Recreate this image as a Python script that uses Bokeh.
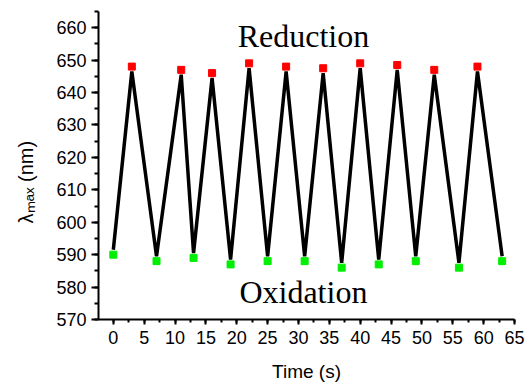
from bokeh.plotting import figure
from bokeh.models import SingleIntervalTicker, Label, Range1d
from bokeh.embed import file_html
from bokeh.resources import INLINE

# Data
line_time = [0, 3, 7, 11, 13, 16, 19, 22, 25, 28, 31, 34, 37, 40, 43, 46, 49, 52, 56, 59, 63]
line_lam = [591.5, 646.5, 589.5, 645.5, 590.5, 644.5, 588.5, 647.5, 589.5, 646.5, 589.5,
            646.0, 587.5, 647.5, 588.5, 647.0, 589.5, 645.5, 587.5, 646.5, 589.5]
red_time = [3, 11, 16, 22, 28, 34, 40, 46, 52, 59]
red_lam = [648, 647, 646, 649, 648, 647.5, 649, 648.5, 647, 648]
green_time = [0, 7, 13, 19, 25, 31, 37, 43, 49, 56, 63]
green_lam = [590, 588, 589, 587, 588, 588, 586, 587, 588, 586, 588]

x_label = "Time (s)"
y_label = "λₘₐₓ (nm)"
annot_top = "Reduction"
annot_bottom = "Oxidation"

p = figure(width=525, height=384, output_backend="svg", toolbar_location=None,
           x_range=Range1d(-2.4, 65), y_range=Range1d(570, 665),
           min_border_left=98, min_border_right=11, min_border_top=11, min_border_bottom=64)
p.outline_line_color = None
p.grid.visible = False
p.background_fill_color = "white"

p.line(line_time, line_lam, line_color="black", line_width=3.5)
p.scatter(red_time, red_lam, marker="square", size=7, fill_color="#ff0000", line_color="#ff0000")
p.scatter(green_time, green_lam, marker="square", size=7, fill_color="#00ee00", line_color="#00ee00")

sans = "Liberation Sans"
for ax in (p.xaxis[0], p.yaxis[0]):
    ax.axis_line_width = 2
    ax.axis_line_color = "black"
    ax.major_tick_line_width = 2
    ax.minor_tick_line_width = 2
    ax.major_tick_line_color = "black"
    ax.minor_tick_line_color = "black"
    ax.major_tick_in = 0
    ax.minor_tick_in = 0
    ax.major_label_text_font = sans
    ax.major_label_text_font_size = "18px"
    ax.major_label_text_color = "black"
    ax.axis_label_text_font = sans
    ax.axis_label_text_font_style = "normal"
    ax.axis_label_text_color = "black"

p.xaxis.ticker = SingleIntervalTicker(interval=5, num_minor_ticks=2)
p.yaxis.ticker = SingleIntervalTicker(interval=10, num_minor_ticks=2)
p.xaxis.major_tick_out = 5
p.xaxis.minor_tick_out = 3
p.yaxis.major_tick_out = 7
p.yaxis.minor_tick_out = 4
p.xaxis.major_label_standoff = 6
p.yaxis.major_label_standoff = 5

p.xaxis.axis_label = x_label
p.xaxis.axis_label_text_font_size = "19px"
p.xaxis.axis_label_standoff = 14
# trailing no-break spaces shift the centred label down along the axis, as in the reference
p.yaxis.axis_label = y_label + "\u00a0" * 6
p.yaxis.axis_label_text_font_size = "20px"
p.yaxis.axis_label_standoff = 16

p.add_layout(Label(x=30.8, y=657.5, text=annot_top, text_font="Liberation Serif",
                   text_font_size="32px", text_align="center", text_baseline="alphabetic",
                   text_color="black"))
p.add_layout(Label(x=30.8, y=578.6, text=annot_bottom, text_font="Liberation Serif",
                   text_font_size="32px", text_align="center", text_baseline="alphabetic",
                   text_color="black"))

open("out.html", "w").write(file_html(p, INLINE))
